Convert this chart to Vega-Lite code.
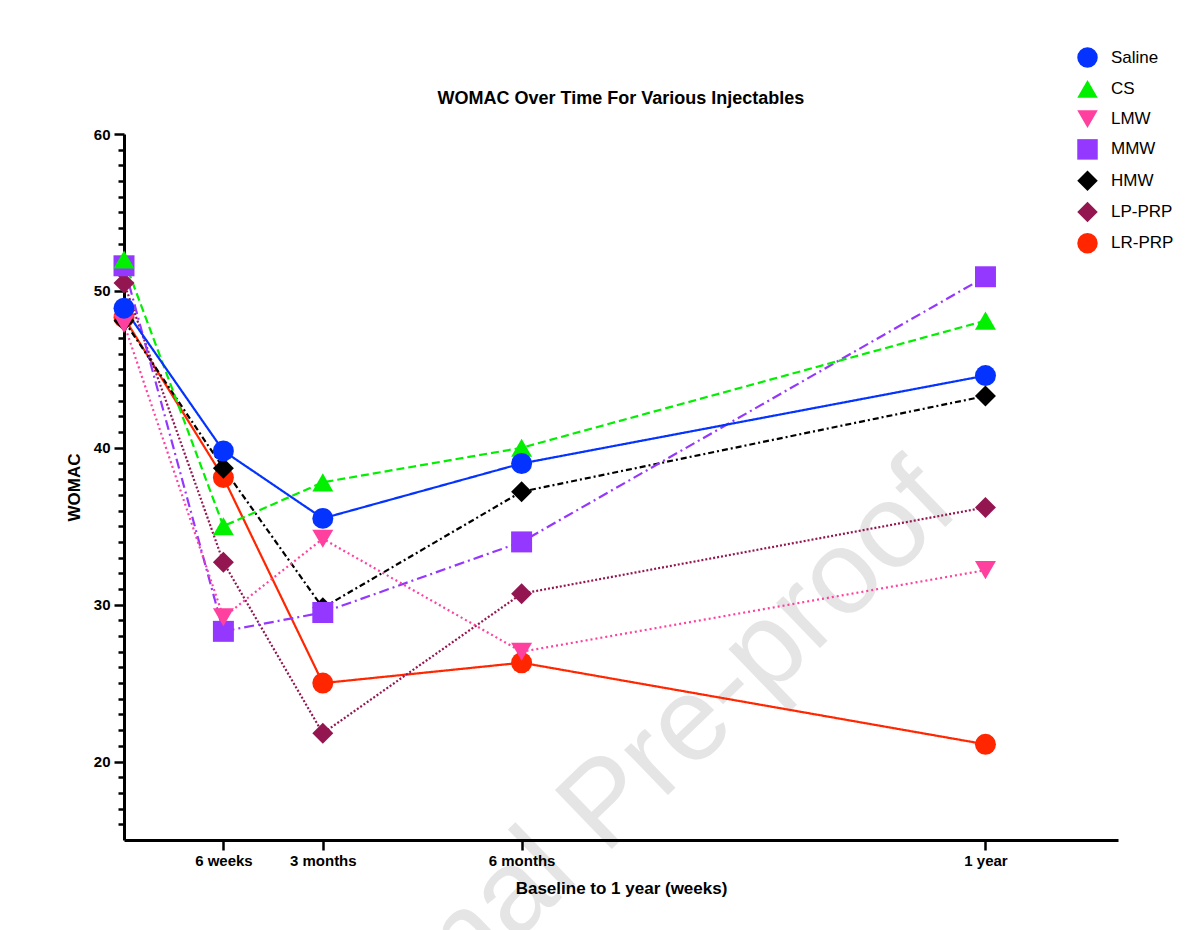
{
  "$schema": "https://vega.github.io/schema/vega-lite/v6.json",
  "autosize": "none",
  "width": 994,
  "height": 706,
  "padding": {"left": 124, "top": 134, "right": 84, "bottom": 90},
  "background": "white",
  "config": {
    "font": "Liberation Sans",
    "view": {"stroke": null},
    "axis": {"grid": false, "domainColor": "black", "tickColor": "black", "labelColor": "black", "titleColor": "black"}
  },
  "title": {
    "text": "WOMAC Over Time For Various Injectables",
    "fontSize": 18,
    "fontWeight": "bold",
    "font": "Liberation Sans",
    "anchor": "middle",
    "frame": "group",
    "offset": 28,
    "dy": 89,
    "color": "black"
  },
  "data": {
    "values": [
      {"group": "LR-PRP", "week": 0, "womac": 48.3},
      {"group": "LR-PRP", "week": 6, "womac": 38.1},
      {"group": "LR-PRP", "week": 12, "womac": 25.0},
      {"group": "LR-PRP", "week": 24, "womac": 26.3},
      {"group": "LR-PRP", "week": 52, "womac": 21.1},
      {"group": "LP-PRP", "week": 0, "womac": 50.5},
      {"group": "LP-PRP", "week": 6, "womac": 32.7},
      {"group": "LP-PRP", "week": 12, "womac": 21.8},
      {"group": "LP-PRP", "week": 24, "womac": 30.7},
      {"group": "LP-PRP", "week": 52, "womac": 36.2},
      {"group": "HMW", "week": 0, "womac": 48.1},
      {"group": "HMW", "week": 6, "womac": 38.7},
      {"group": "HMW", "week": 12, "womac": 29.8},
      {"group": "HMW", "week": 24, "womac": 37.2},
      {"group": "HMW", "week": 52, "womac": 43.3},
      {"group": "MMW", "week": 0, "womac": 51.6},
      {"group": "MMW", "week": 6, "womac": 28.3},
      {"group": "MMW", "week": 12, "womac": 29.5},
      {"group": "MMW", "week": 24, "womac": 34.0},
      {"group": "MMW", "week": 52, "womac": 50.9},
      {"group": "LMW", "week": 0, "womac": 47.9},
      {"group": "LMW", "week": 6, "womac": 29.2},
      {"group": "LMW", "week": 12, "womac": 34.2},
      {"group": "LMW", "week": 24, "womac": 27.0},
      {"group": "LMW", "week": 52, "womac": 32.2},
      {"group": "CS", "week": 0, "womac": 52.0},
      {"group": "CS", "week": 6, "womac": 35.0},
      {"group": "CS", "week": 12, "womac": 37.8},
      {"group": "CS", "week": 24, "womac": 40.0},
      {"group": "CS", "week": 52, "womac": 48.1},
      {"group": "Saline", "week": 0, "womac": 48.9},
      {"group": "Saline", "week": 6, "womac": 39.8},
      {"group": "Saline", "week": 12, "womac": 35.5},
      {"group": "Saline", "week": 24, "womac": 39.0},
      {"group": "Saline", "week": 52, "womac": 44.6}
    ]
  },
  "encoding": {
    "x": {
      "field": "week",
      "type": "quantitative",
      "scale": {"domain": [0, 60], "nice": false, "zero": false},
      "axis": {
        "title": "Baseline to 1 year (weeks)",
        "titleFontSize": 17,
        "titleFontWeight": "bold",
        "titlePadding": 12,
        "values": [6, 12, 24, 52],
        "labelExpr": "datum.value == 6 ? '6 weeks' : datum.value == 12 ? '3 months' : datum.value == 24 ? '6 months' : '1 year'",
        "labelFontSize": 15,
        "labelFontWeight": "bold",
        "labelPadding": 3,
        "tickSize": 10,
        "tickWidth": 2.5,
        "domainWidth": 3,
        "labelFlush": false,
        "labelOverlap": false,
        "zindex": 1
      }
    },
    "y": {
      "field": "womac",
      "type": "quantitative",
      "scale": {"domain": [15, 60], "nice": false, "zero": false},
      "axis": {
        "title": "WOMAC",
        "titleFontSize": 17,
        "titleFontWeight": "bold",
        "titlePadding": 10,
        "values": [16, 17, 18, 19, 20, 21, 22, 23, 24, 25, 26, 27, 28, 29, 30, 31, 32, 33, 34, 35, 36, 37, 38, 39, 40, 41, 42, 43, 44, 45, 46, 47, 48, 49, 50, 51, 52, 53, 54, 55, 56, 57, 58, 59, 60],
        "labelExpr": "datum.value % 10 === 0 ? datum.label : ''",
        "labelFontSize": 15,
        "labelFontWeight": "bold",
        "labelPadding": 4,
        "tickSize": {"condition": {"test": "datum.value % 10 === 0", "value": 10}, "value": 6},
        "tickWidth": 2.5,
        "domainWidth": 3,
        "labelFlush": false,
        "labelOverlap": false
      }
    }
  },
  "layer": [
    {
      "data": {"values": [{"wm": "Journal Pre-proof", "week": 30.6, "womac": 15.6}]},
      "mark": {"type": "text", "fontSize": 119, "color": "#e5e5e5", "angle": 316, "align": "center", "baseline": "alphabetic"},
      "encoding": {
        "text": {"field": "wm", "type": "nominal"}
      }
    },
    {
      "mark": {"type": "line", "strokeWidth": 2.2},
      "encoding": {
        "color": {
          "field": "group",
          "type": "nominal",
          "scale": {
            "domain": ["Saline", "CS", "LMW", "MMW", "HMW", "LP-PRP", "LR-PRP"],
            "range": ["#0433FF", "#00F000", "#FF409F", "#9437FF", "#000000", "#941651", "#FF2600"]
          },
          "legend": {
            "title": null,
            "orient": "none",
            "legendX": 953,
            "legendY": -87,
            "padding": 0,
            "labelFontSize": 17,
            "labelFont": "Liberation Sans",
            "labelColor": "black",
            "symbolSize": 420,
            "rowPadding": 10.3,
            "labelOffset": 13,
            "symbolStrokeWidth": 0
          }
        },
        "strokeDash": {
          "field": "group",
          "type": "nominal",
          "scale": {
            "domain": ["Saline", "CS", "LMW", "MMW", "HMW", "LP-PRP", "LR-PRP"],
            "range": [[1, 0], [8, 4], [2, 3], [10, 4, 2, 4], [6, 3, 2, 3], [2, 2], [1, 0]]
          },
          "legend": null
        },
        "detail": {"field": "group"}
      }
    },
    {
      "mark": {"type": "point", "filled": true, "opacity": 1, "size": 440},
      "encoding": {
        "color": {"field": "group", "type": "nominal"},
        "shape": {
          "field": "group",
          "type": "nominal",
          "scale": {
            "domain": ["Saline", "CS", "LMW", "MMW", "HMW", "LP-PRP", "LR-PRP"],
            "range": ["circle", "triangle-up", "triangle-down", "square", "diamond", "diamond", "circle"]
          }
        }
      }
    }
  ]
}
